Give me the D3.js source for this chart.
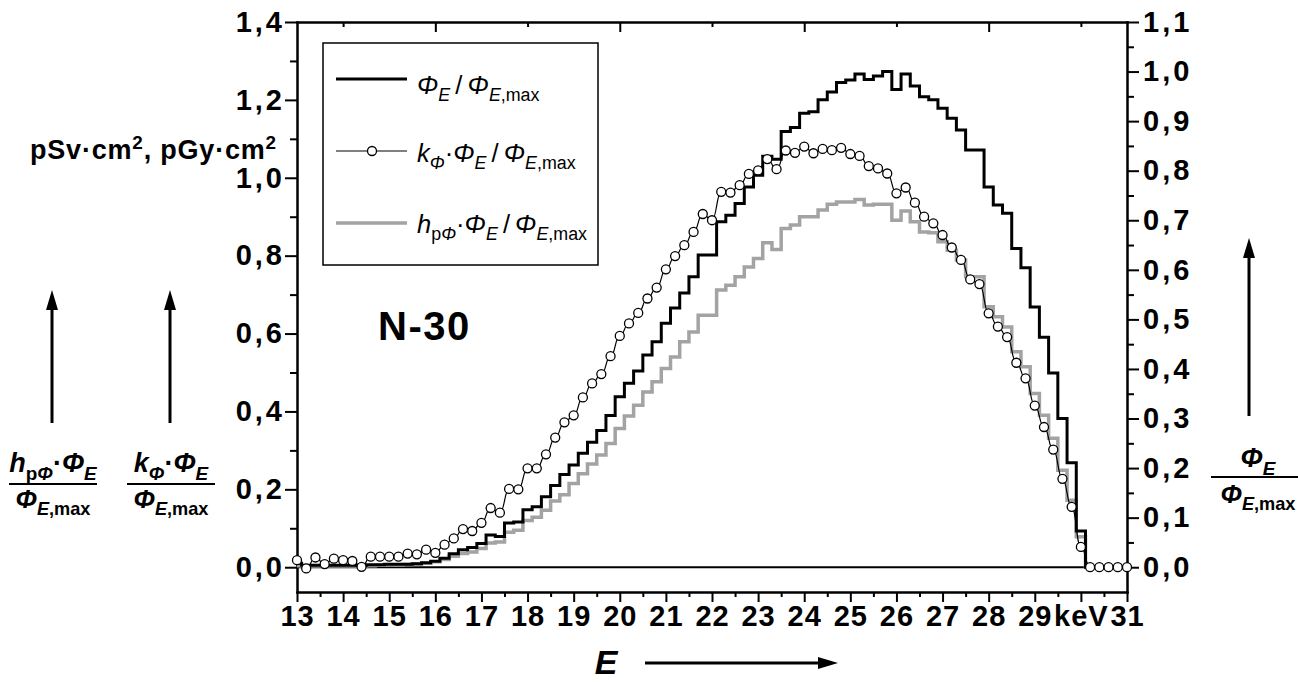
<!DOCTYPE html>
<html>
<head>
<meta charset="utf-8">
<script src="https://cdn.jsdelivr.net/npm/d3@7"></script>
<style>
    body { margin: 0; background: #fff; }
    svg { display: block; font-family: "Liberation Sans", Arial, sans-serif; }
    .axis text { font-size: 29px; font-weight: bold; fill: #000; }
    .axis.y text { letter-spacing: 3px; }
    .axis.x text { letter-spacing: 1px; }
    .axis path, .axis line { stroke: #000; stroke-width: 2px; }
    .axis path { stroke-linecap: square; }
</style>
</head>
<body>
<script>
// Spectrum N-30: channel centres (keV), 0.2 keV wide
var energies = [
    13.0, 13.2, 13.4, 13.6, 13.8, 14.0, 14.2, 14.4, 14.6, 14.8,
    15.0, 15.2, 15.4, 15.6, 15.8, 16.0, 16.2, 16.4, 16.6, 16.8,
    17.0, 17.2, 17.4, 17.6, 17.8, 18.0, 18.2, 18.4, 18.6, 18.8,
    19.0, 19.2, 19.4, 19.6, 19.8, 20.0, 20.2, 20.4, 20.6, 20.8,
    21.0, 21.2, 21.4, 21.6, 21.8, 22.0, 22.2, 22.4, 22.6, 22.8,
    23.0, 23.2, 23.4, 23.6, 23.8, 24.0, 24.2, 24.4, 24.6, 24.8,
    25.0, 25.2, 25.4, 25.6, 25.8, 26.0, 26.2, 26.4, 26.6, 26.8,
    27.0, 27.2, 27.4, 27.6, 27.8, 28.0, 28.2, 28.4, 28.6, 28.8,
    29.0, 29.2, 29.4, 29.6, 29.8, 30.0, 30.2, 30.4, 30.6, 30.8,
    31.0];

// Phi_E / Phi_E,max  (right axis)
var phiRel = [
    0.008, 0.004, 0.004, 0.004, 0.004, 0.004, 0.004, 0.003, 0.005, 0.005,
    0.006, 0.006, 0.006, 0.007, 0.009, 0.012, 0.018, 0.027, 0.035, 0.040,
    0.048, 0.065, 0.062, 0.089, 0.091, 0.116, 0.122, 0.142, 0.165, 0.187,
    0.206, 0.230, 0.252, 0.276, 0.306, 0.344, 0.371, 0.396, 0.428, 0.455,
    0.492, 0.523, 0.553, 0.586, 0.630, 0.630, 0.697, 0.710, 0.734, 0.767,
    0.791, 0.829, 0.823, 0.879, 0.887, 0.916, 0.919, 0.943, 0.959, 0.978,
    0.983, 0.995, 0.984, 0.991, 1.000, 0.964, 0.995, 0.971, 0.949, 0.943,
    0.926, 0.906, 0.882, 0.842, 0.842, 0.767, 0.731, 0.714, 0.643, 0.604,
    0.525, 0.464, 0.392, 0.300, 0.211, 0.073, 0, 0, 0, 0,
    0];

// k_Phi * Phi_E / Phi_E,max  (left axis, pGy cm2)
var kPhi = [
    0.018, -0.003, 0.025, 0.008, 0.022, 0.018, 0.016, 0.001, 0.027, 0.027,
    0.027, 0.027, 0.035, 0.033, 0.045, 0.037, 0.058, 0.074, 0.098, 0.093,
    0.114, 0.152, 0.140, 0.201, 0.200, 0.254, 0.254, 0.290, 0.333, 0.372,
    0.390, 0.436, 0.472, 0.496, 0.542, 0.594, 0.626, 0.653, 0.690, 0.718,
    0.765, 0.799, 0.827, 0.861, 0.907, 0.891, 0.964, 0.962, 0.981, 1.010,
    1.019, 1.048, 1.022, 1.070, 1.064, 1.080, 1.063, 1.074, 1.071, 1.077,
    1.061, 1.056, 1.030, 1.024, 1.011, 0.960, 0.975, 0.936, 0.900, 0.883,
    0.853, 0.821, 0.789, 0.739, 0.727, 0.652, 0.618, 0.591, 0.525, 0.485,
    0.415, 0.360, 0.302, 0.227, 0.155, 0.052, 0, 0, 0, 0,
    0];

// h_pPhi * Phi_E / Phi_E,max  (left axis, pSv cm2)
var hpPhi = [
    0.004, 0.003, 0.003, 0.003, 0.003, 0.003, 0.003, 0.002, 0.004, 0.005,
    0.006, 0.006, 0.007, 0.008, 0.010, 0.014, 0.020, 0.028, 0.035, 0.039,
    0.048, 0.062, 0.065, 0.090, 0.095, 0.120, 0.128, 0.146, 0.170, 0.186,
    0.215, 0.240, 0.265, 0.288, 0.318, 0.356, 0.388, 0.416, 0.450, 0.476,
    0.510, 0.540, 0.579, 0.604, 0.647, 0.647, 0.712, 0.724, 0.746, 0.771,
    0.793, 0.833, 0.816, 0.870, 0.879, 0.900, 0.900, 0.917, 0.932, 0.938,
    0.938, 0.944, 0.930, 0.932, 0.932, 0.891, 0.915, 0.887, 0.861, 0.859,
    0.836, 0.814, 0.789, 0.746, 0.746, 0.669, 0.643, 0.617, 0.553, 0.515,
    0.446, 0.390, 0.331, 0.249, 0.172, 0.078, 0, 0, 0, 0,
    0];

// Tick values and labels
var xTicks = [13, 14, 15, 16, 17, 18, 19, 20, 21, 22, 23, 24, 25, 26, 27,
    28, 29, 30, 31];
var xTickLabels = ["13", "14", "15", "16", "17", "18", "19", "20", "21",
    "22", "23", "24", "25", "26", "27", "28", "29", "keV", "31"];
var xMinorTicks = [13.5, 14.5, 15.5, 16.5, 17.5, 18.5, 19.5, 20.5, 21.5,
    22.5, 23.5, 24.5, 25.5, 26.5, 27.5, 28.5, 29.5, 30.5];
var topMajorTicks = [16, 20, 24, 28];
var topMinorTicks = [14, 18, 22, 26, 30];
var leftTicks = [0, 0.2, 0.4, 0.6, 0.8, 1.0, 1.2, 1.4];
var leftTickLabels = ["0,0", "0,2", "0,4", "0,6", "0,8", "1,0", "1,2", "1,4"];
var leftMinorTicks = [0.1, 0.3, 0.5, 0.7, 0.9, 1.1, 1.3];
var rightTicks = [0, 0.1, 0.2, 0.3, 0.4, 0.5, 0.6, 0.7, 0.8, 0.9, 1.0, 1.1];
var rightTickLabels = ["0,0", "0,1", "0,2", "0,3", "0,4", "0,5", "0,6",
    "0,7", "0,8", "0,9", "1,0", "1,1"];
var rightMinorTicks = [0.05, 0.15, 0.25, 0.35, 0.45, 0.55, 0.65, 0.75, 0.85,
    0.95, 1.05];

// Plot frame inside the 1298 x 682 page
var W = 1298, H = 682;
var plot = {left: 297, right: 1127, top: 22, bottom: 592};

var svg = d3.select("body").append("svg")
    .attr("width", W)
    .attr("height", H);

var x = d3.scaleLinear().domain([13, 31]).range([plot.left, plot.right]);
// both y scales share the frame; zero sits at the same height
var yLeft = d3.scaleLinear().domain([-0.05 * 1.4 / 1.1, 1.4])
    .range([plot.bottom, plot.top]);
var yRight = d3.scaleLinear().domain([-0.05, 1.1])
    .range([plot.bottom, plot.top]);

// ---- axes -----------------------------------------------------------------
function addAxis(axis, cls, tx, ty) {
    return svg.append("g")
        .attr("class", "axis " + cls)
        .attr("transform", "translate(" + tx + "," + ty + ")")
        .call(axis);
}

addAxis(d3.axisBottom(x).tickValues(xTicks)
    .tickFormat(function(d, i) { return xTickLabels[i]; })
    .tickSize(10).tickSizeOuter(0).tickPadding(3), "x", 0, plot.bottom);
addAxis(d3.axisBottom(x).tickValues(xMinorTicks).tickFormat("")
    .tickSize(5).tickSizeOuter(0), "x", 0, plot.bottom);

addAxis(d3.axisTop(x).tickValues(topMajorTicks).tickFormat("")
    .tickSize(-10).tickSizeOuter(0), "x", 0, plot.top);
addAxis(d3.axisTop(x).tickValues(topMinorTicks).tickFormat("")
    .tickSize(-5).tickSizeOuter(0), "x", 0, plot.top);

addAxis(d3.axisLeft(yLeft).tickValues(leftTicks)
    .tickFormat(function(d, i) { return leftTickLabels[i]; })
    .tickSize(12).tickSizeOuter(0).tickPadding(0), "y", plot.left, 0);
addAxis(d3.axisLeft(yLeft).tickValues(leftMinorTicks).tickFormat("")
    .tickSize(7).tickSizeOuter(0), "y", plot.left, 0);

addAxis(d3.axisRight(yRight).tickValues(rightTicks)
    .tickFormat(function(d, i) { return rightTickLabels[i]; })
    .tickSize(12).tickSizeOuter(0).tickPadding(4), "y", plot.right, 0);
addAxis(d3.axisRight(yRight).tickValues(rightMinorTicks).tickFormat("")
    .tickSize(7).tickSizeOuter(0), "y", plot.right, 0);

// zero line
svg.append("line")
    .attr("x1", plot.left).attr("x2", plot.right)
    .attr("y1", yLeft(0)).attr("y2", yLeft(0))
    .attr("stroke", "#000").attr("stroke-width", 2);

// ---- curves ---------------------------------------------------------------
var rows = energies.map(function(e, i) {
    return {e: e, phi: phiRel[i], k: kPhi[i], h: hpPhi[i]};
});

svg.append("path").datum(rows)
    .attr("d", d3.line().curve(d3.curveStep)
        .x(function(d) { return x(d.e); })
        .y(function(d) { return yLeft(d.h); }))
    .attr("fill", "none").attr("stroke", "#a3a3a3").attr("stroke-width", 3.5);

svg.append("path").datum(rows)
    .attr("d", d3.line().curve(d3.curveStep)
        .x(function(d) { return x(d.e); })
        .y(function(d) { return yRight(d.phi); }))
    .attr("fill", "none").attr("stroke", "#000").attr("stroke-width", 3);

svg.append("path").datum(rows)
    .attr("d", d3.line().curve(d3.curveBumpX)
        .x(function(d) { return x(d.e); })
        .y(function(d) { return yLeft(d.k); }))
    .attr("fill", "none").attr("stroke", "#000").attr("stroke-width", 1.2);

svg.selectAll("circle.k").data(rows).enter()
    .append("circle")
    .attr("class", "k")
    .attr("cx", function(d) { return x(d.e); })
    .attr("cy", function(d) { return yLeft(d.k); })
    .attr("r", 4.5)
    .attr("fill", "#fff").attr("stroke", "#000").attr("stroke-width", 1.3);

// ---- text helpers ---------------------------------------------------------
// parts: {t, sub, sup, it}; size in px
function richText(x0, y0, parts, size, anchor, bold, spacing) {
    var t = svg.append("text")
        .attr("x", x0).attr("y", y0)
        .attr("text-anchor", anchor || "start")
        .style("font-size", size + "px")
        .style("font-weight", bold ? "bold" : "normal")
        .style("letter-spacing", (spacing || 0) + "px");
    var shift = 0;
    parts.forEach(function(p) {
        var target = p.sub ? size * 0.28 : (p.sup ? -size * 0.38 : 0);
        t.append("tspan")
            .attr("dy", target - shift)
            .style("font-size", (p.sub || p.sup ? size * 0.7 : size) + "px")
            .style("font-style", p.it ? "italic" : "normal")
            .text(p.t);
        shift = target;
    });
    return t;
}

function arrow(x1, y1, x2, y2) {
    var a = Math.atan2(y2 - y1, x2 - x1), len = 20, half = 6;
    var bx = x2 - len * Math.cos(a), by = y2 - len * Math.sin(a);
    svg.append("line")
        .attr("x1", x1).attr("y1", y1).attr("x2", bx).attr("y2", by)
        .attr("stroke", "#000").attr("stroke-width", 3);
    svg.append("path")
        .attr("d", "M" + x2 + "," + y2 +
            "L" + (bx + half * Math.sin(a)) + "," + (by - half * Math.cos(a)) +
            "L" + (bx - half * Math.sin(a)) + "," + (by + half * Math.cos(a)) +
            "Z")
        .attr("fill", "#000");
}

function fraction(cx, top, bottom, y0, y1, yLine, half) {
    richText(cx, y0, top, 27, "middle", true);
    svg.append("line")
        .attr("x1", cx - half).attr("x2", cx + half)
        .attr("y1", yLine).attr("y2", yLine)
        .attr("stroke", "#000").attr("stroke-width", 2);
    richText(cx, y1, bottom, 26, "middle", true);
}

var phiE = [{t: "\u03A6", it: true}, {t: "E", sub: true, it: true}];
var phiMax = [{t: "\u03A6", it: true}, {t: "E", sub: true, it: true},
    {t: ",max", sub: true}];

// ---- legend ---------------------------------------------------------------
svg.append("rect")
    .attr("x", 323).attr("y", 43).attr("width", 275).attr("height", 222)
    .attr("fill", "#fff").attr("stroke", "#000").attr("stroke-width", 1.5);

svg.append("line").attr("x1", 336).attr("x2", 407).attr("y1", 79)
    .attr("y2", 79).attr("stroke", "#000").attr("stroke-width", 3);
svg.append("line").attr("x1", 336).attr("x2", 407).attr("y1", 151)
    .attr("y2", 151).attr("stroke", "#000").attr("stroke-width", 1.2);
svg.append("circle").attr("cx", 372).attr("cy", 151).attr("r", 4.5)
    .attr("fill", "#fff").attr("stroke", "#000").attr("stroke-width", 1.3);
svg.append("line").attr("x1", 336).attr("x2", 407).attr("y1", 223)
    .attr("y2", 223).attr("stroke", "#a3a3a3").attr("stroke-width", 3.5);

var slash = [{t: "\u2009/\u2009"}];
richText(417, 94, phiE.concat(slash, phiMax), 25.5);
richText(417, 162, [{t: "k", it: true}, {t: "\u03A6", sub: true, it: true},
    {t: "\u00B7"}].concat(phiE, slash, phiMax), 25.5);
richText(417, 233, [{t: "h", it: true}, {t: "p", sub: true},
    {t: "\u03A6", sub: true, it: true}, {t: "\u00B7"}]
    .concat(phiE, slash, phiMax), 25.5);

// ---- annotations ----------------------------------------------------------
svg.append("text")
    .attr("x", 378).attr("y", 340)
    .style("font-size", "40px").style("font-weight", "bold")
    .style("letter-spacing", "1.5px")
    .text("N-30");

richText(30, 159, [{t: "pSv\u00B7cm"}, {t: "2", sup: true},
    {t: ", pGy\u00B7cm"}, {t: "2", sup: true}], 27, "start", true, 0.8);

arrow(52, 423, 52, 290);
arrow(170, 423, 170, 290);
arrow(1249, 416, 1249, 238);
arrow(645, 663, 838, 663);

svg.append("text")
    .attr("x", 606).attr("y", 674)
    .attr("text-anchor", "middle")
    .style("font-size", "34px").style("font-weight", "bold")
    .style("font-style", "italic")
    .text("E");

fraction(53, [{t: "h", it: true}, {t: "p", sub: true},
    {t: "\u03A6", sub: true, it: true}, {t: "\u00B7"}].concat(phiE),
    phiMax, 472, 508, 484, 44);
fraction(171, [{t: "k", it: true}, {t: "\u03A6", sub: true, it: true},
    {t: "\u00B7"}].concat(phiE),
    phiMax, 472, 508, 484, 44);
fraction(1258, phiE, phiMax, 467, 503, 477, 47);
</script>
</body>
</html>
